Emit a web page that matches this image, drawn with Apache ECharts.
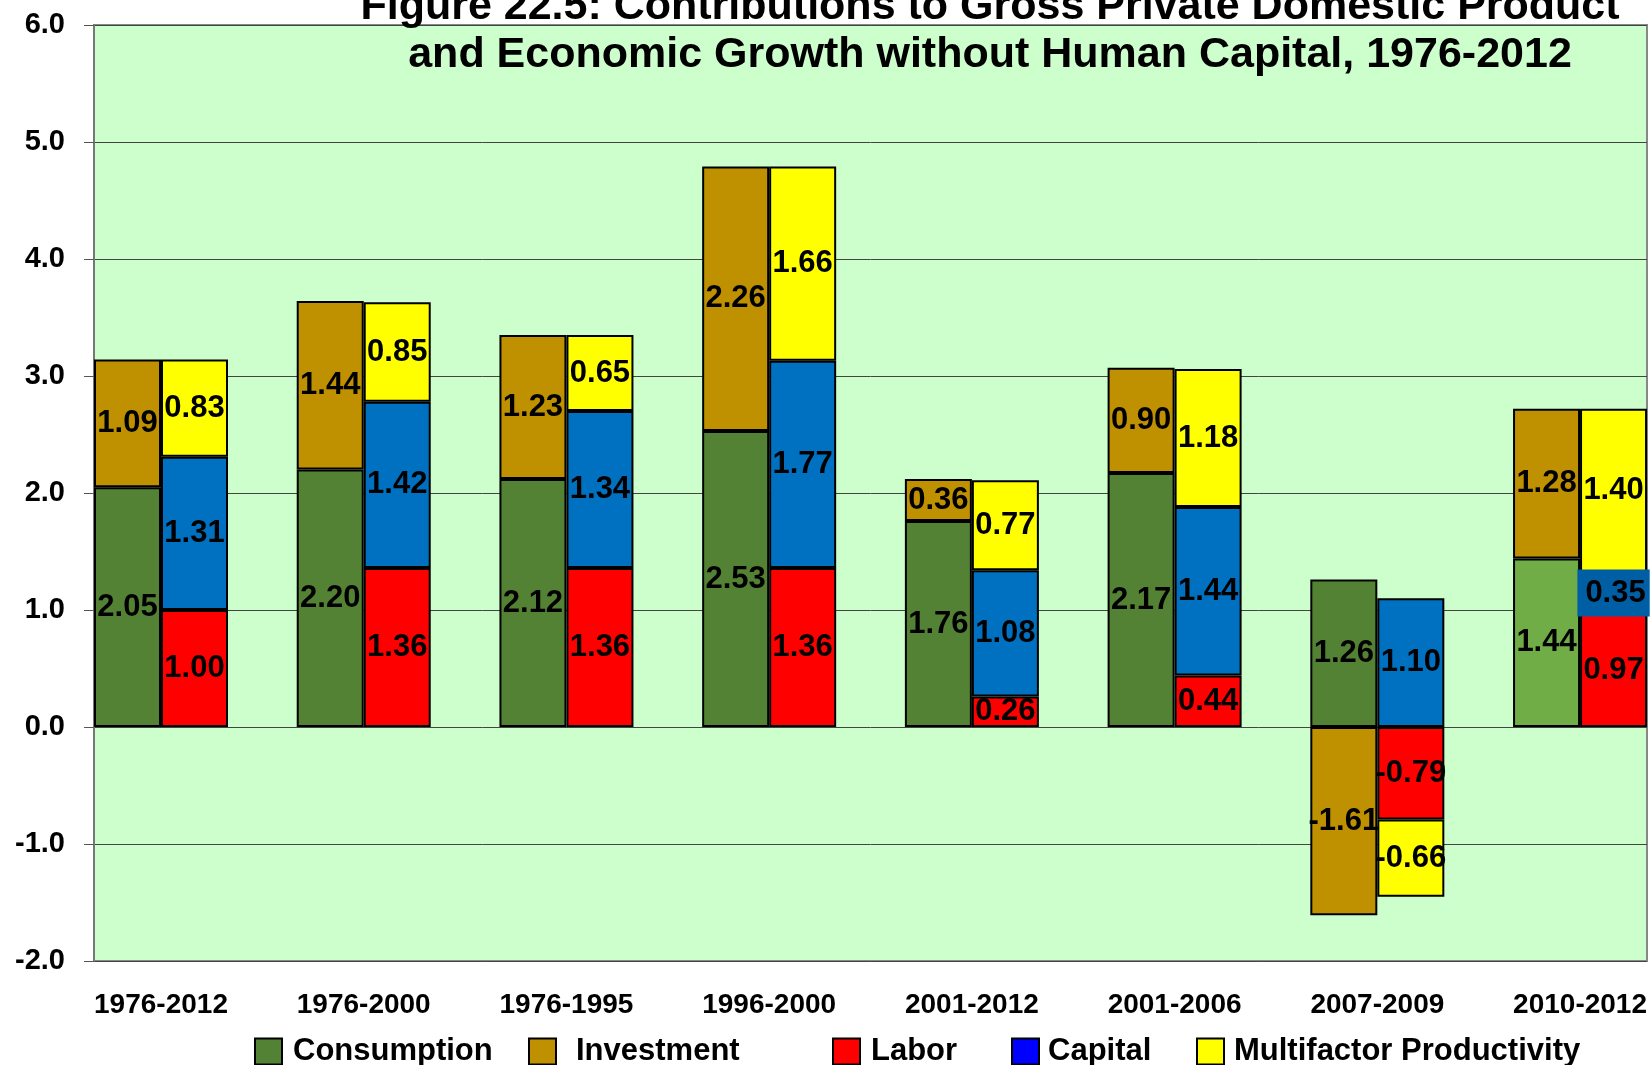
<!DOCTYPE html>
<html>
<head>
<meta charset="utf-8">
<script src="https://cdn.jsdelivr.net/npm/echarts@6/dist/echarts.min.js"></script>
<style>
    html, body { margin: 0; padding: 0; background: #ffffff; }
    #target { width: 1650px; height: 1065px; }
</style>
</head>
<body>
<div id="target"></div>
<script>
    const categories = ['1976-2012', '1976-2000', '1976-1995', '1996-2000', '2001-2012', '2001-2006', '2007-2009', '2010-2012']
    const consumption = [2.05, 2.20, 2.12, 2.53, 1.76, 2.17, 1.26, 1.44]
    const investment = [1.09, 1.44, 1.23, 2.26, 0.36, 0.90, -1.61, 1.28]
    const labor = [1.00, 1.36, 1.36, 1.36, 0.26, 0.44, -0.79, 0.97]
    const capital = [1.31, 1.42, 1.34, 1.77, 1.08, 1.44, 1.10, 0.35]
    const mfp = [0.83, 0.85, 0.65, 1.66, 0.77, 1.18, -0.66, 1.40]
    const yMin = -2
    const yMax = 6
    const yStep = 1

    const font = "'Liberation Sans', Arial, sans-serif"
    const mChart = echarts.init(document.getElementById('target'))

    const barLabel = {
        show: true,
        position: 'inside',
        color: '#000',
        fontSize: 31,
        fontWeight: 'bold',
        fontFamily: font,
        formatter: p => p.value.toFixed(2)
    }

    // last period has a lighter consumption bar and a thin capital bar with a boxed label
    const consData = consumption.map((v, i) => i === 7 ? {value: v, itemStyle: {color: '#70AD47'}} : v)
    const capData = capital.map((v, i) => i === 7 ? {
        value: v,
        itemStyle: {color: '#005EA5', borderWidth: 0},
        label: {backgroundColor: '#005EA5', padding: [8, 4, 8, 8]}
    } : v)

    function bar(name, data, stack, color) {
        return {
            name: name,
            type: 'bar',
            xAxisIndex: 1,
            yAxisIndex: 1,
            stack: stack,
            barWidth: 67,
            barGap: '0%',
            clip: false,
            itemStyle: {color: color, borderColor: '#000', borderWidth: 2},
            label: barLabel,
            data: data
        }
    }

    function legendItem(name, left, pad, iconColor) {
        const d = {name: name}
        if (iconColor) d.itemStyle = {color: iconColor}
        return {
            left: left,
            top: 1031,
            icon: 'rect',
            itemWidth: 27,
            itemHeight: 26,
            selectedMode: false,
            textStyle: {color: '#000', fontSize: 31, fontWeight: 'bold', fontFamily: font, padding: [0, 0, 0, pad]},
            data: [d]
        }
    }

    const option = {
        animation: false,
        title: {
            text: 'Figure 22.5: Contributions to Gross Private Domestic Product\nand Economic Growth without Human Capital, 1976-2012',
            left: 990,
            top: -17,
            padding: 0,
            textAlign: 'center',
            textStyle: {color: '#000', fontSize: 43, fontWeight: 'bold', fontFamily: font, lineHeight: 48}
        },
        legend: [
            legendItem('Consumption', 249, 6),
            legendItem('Investment', 523, 15),
            legendItem('Labor', 827, 6),
            legendItem('Capital', 1006, 4, '#0000FF'),
            legendItem('Multifactor Productivity', 1191, 5)
        ],
        grid: [
            // plot area with background and value axis
            {left: 94, right: 3, top: 25, bottom: 104, show: true, backgroundColor: '#CCFFCC', borderColor: '#888', borderWidth: 2},
            // bar layer: categories sit on ticks from first to last group centre
            {left: 161, right: 68.4, top: 25, bottom: 104}
        ],
        xAxis: [
            {gridIndex: 0, type: 'value', show: false},
            {
                gridIndex: 1,
                type: 'category',
                boundaryGap: false,
                data: categories,
                axisLine: {show: false},
                axisTick: {show: false},
                splitLine: {show: false},
                axisLabel: {color: '#000', fontSize: 28, fontWeight: 'bold', fontFamily: font, margin: 30, interval: 0}
            }
        ],
        yAxis: [
            {
                gridIndex: 0,
                type: 'value',
                min: yMin,
                max: yMax,
                interval: yStep,
                axisLine: {show: true, lineStyle: {color: '#777', width: 2}},
                axisTick: {show: true, length: 10, lineStyle: {color: '#555'}},
                axisLabel: {color: '#000', fontSize: 29, fontWeight: 'bold', fontFamily: font, margin: 29, formatter: v => v.toFixed(1)},
                splitLine: {lineStyle: {color: '#444', width: 1}}
            },
            {gridIndex: 1, type: 'value', min: yMin, max: yMax, interval: yStep, show: false, splitLine: {show: false}}
        ],
        series: [
            bar('Consumption', consData, 'demand', '#548235'),
            bar('Investment', investment, 'demand', '#BF9000'),
            bar('Labor', labor, 'supply', '#FF0000'),
            bar('Capital', capData, 'supply', '#0070C0'),
            bar('Multifactor Productivity', mfp, 'supply', '#FFFF00')
        ]
    }
    mChart.setOption(option)
</script>
</body>
</html>
